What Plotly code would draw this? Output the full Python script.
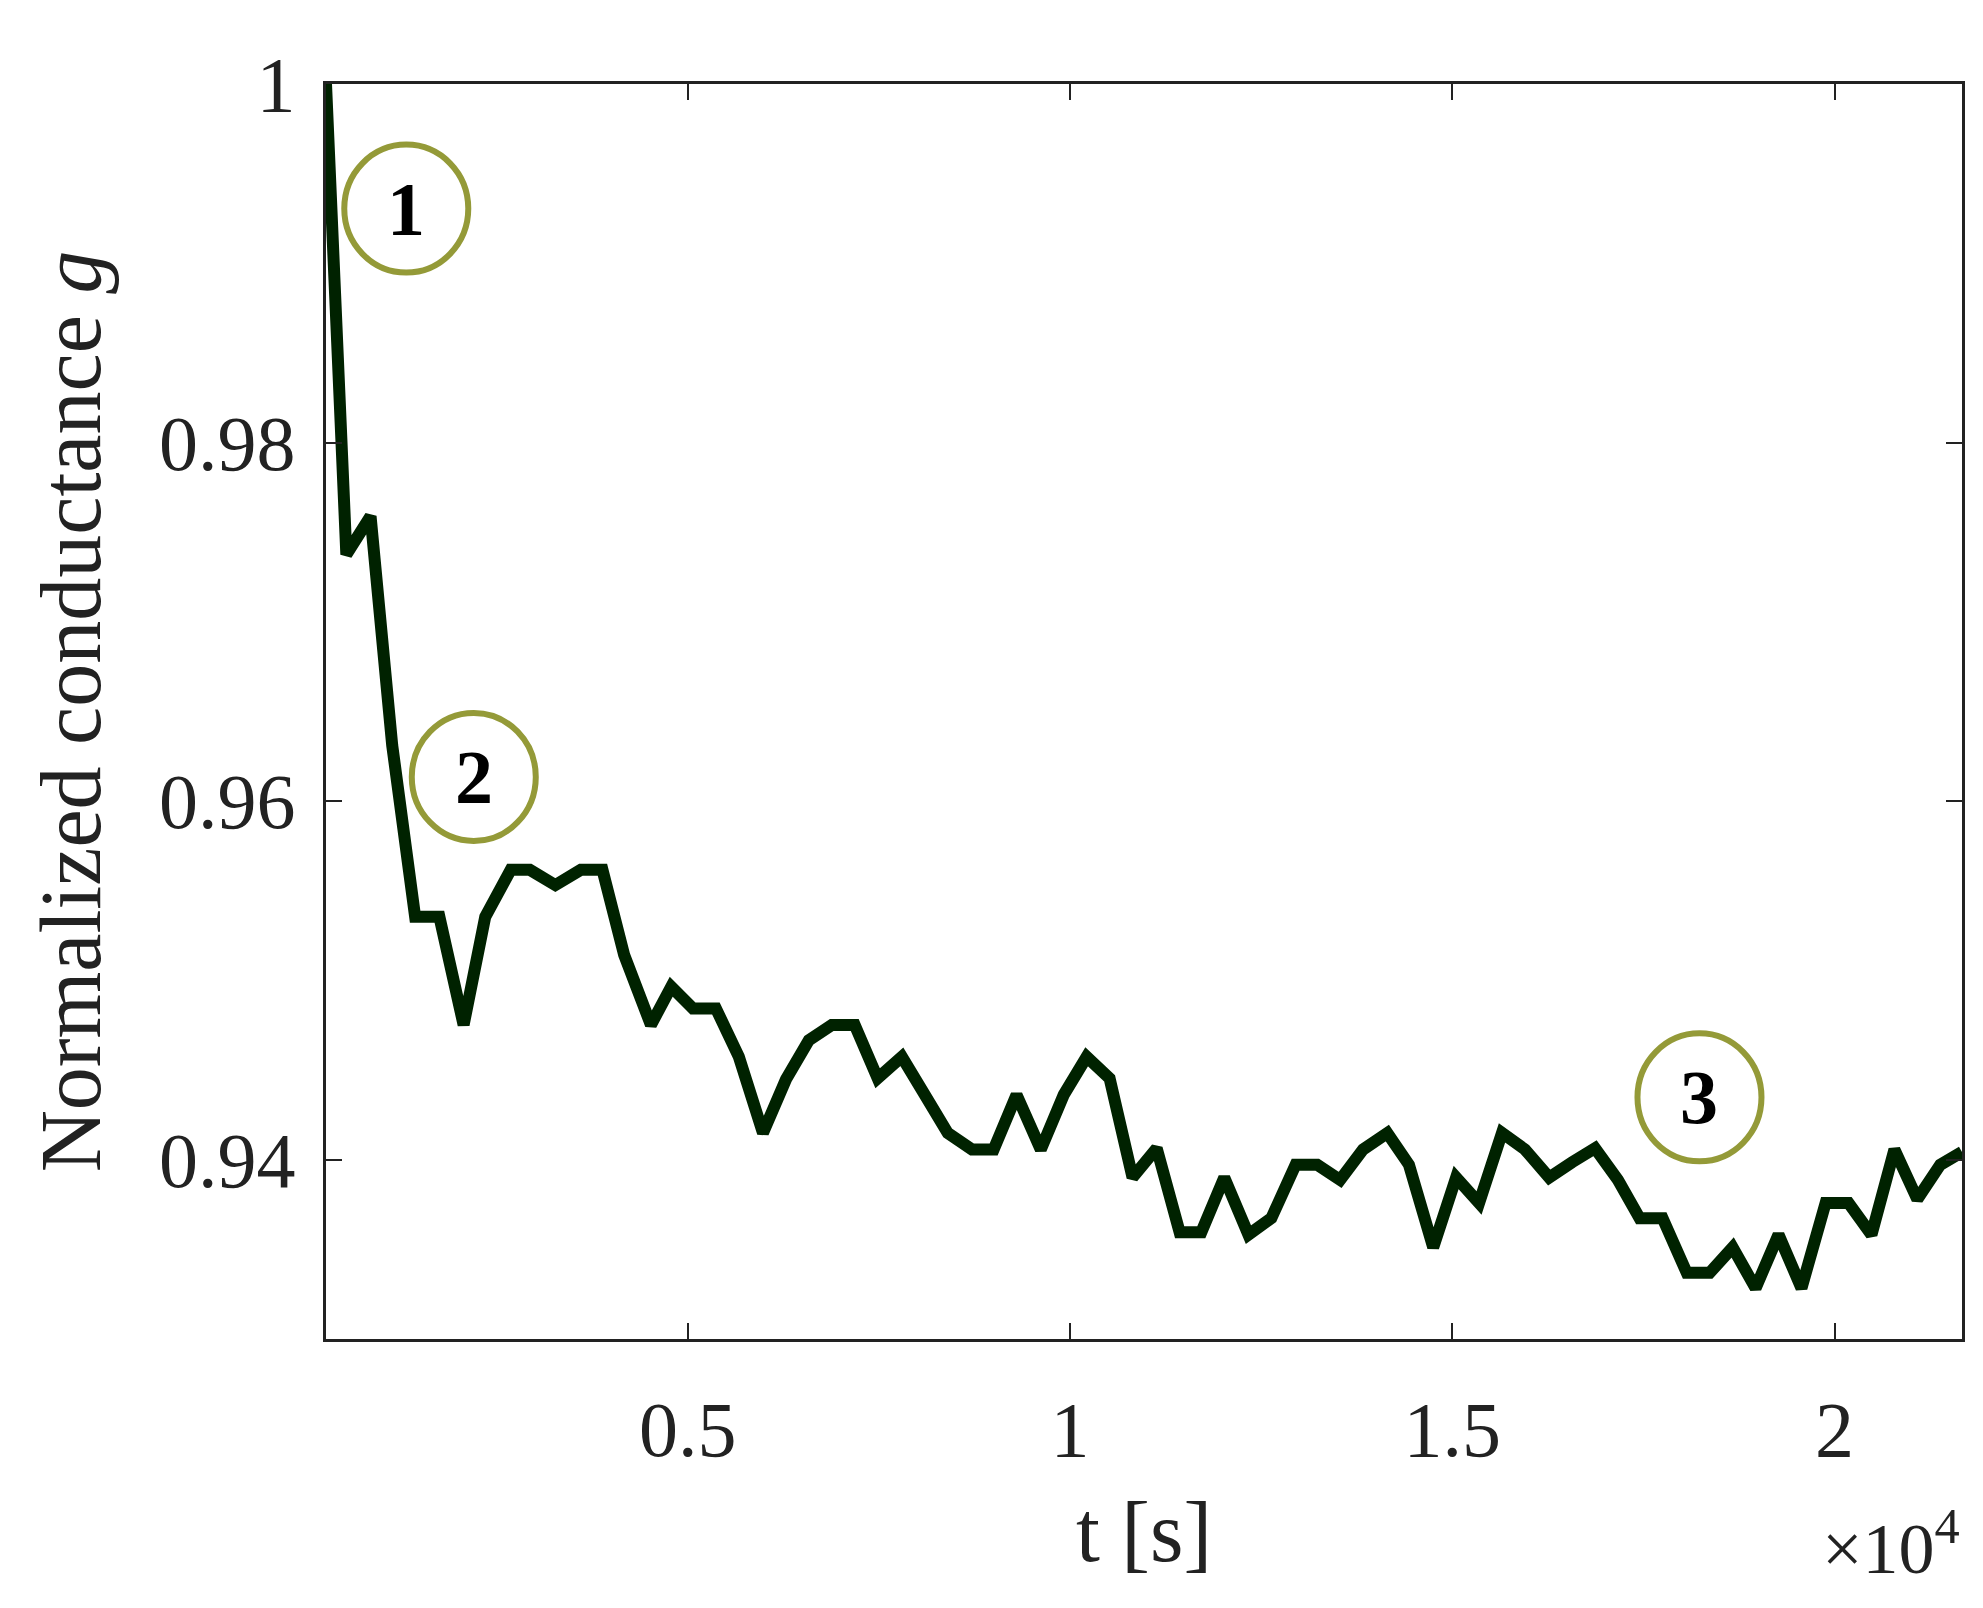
import plotly.graph_objects as go

t = [267, 533, 850, 1133, 1433, 1750, 2067, 2350, 2683, 2933, 3267, 3600, 3883, 4167, 4517, 4783, 5067, 5367, 5667, 5983,
     6283, 6583, 6883, 7183, 7483, 7800, 8100, 8400, 8717, 9000, 9300, 9617, 9917, 10217, 10517, 10817, 11133, 11433, 11717,
     12017, 12333, 12633, 12950, 13233, 13533, 13833, 14150, 14433, 14750, 15050, 15350, 15650, 15950, 16267, 16567, 16867,
     17167, 17450, 17750, 18067, 18367, 18667, 18967, 19267, 19567, 19883, 20183, 20483, 20783, 21083, 21383, 21667]
g = [1.0, .97376, .97589, .96312, .95355, .95355, .94752, .95355, .95617, .95617, .95532, .95617, .95617, .95142, .94752,
     .94965, .94844, .94844, .94574, .94149, .94447, .94667, .94752, .94752, .94454, .94574, .94362, .94149, .94057, .94057,
     .94362, .94057, .94362, .94574, .94454, .93901, .94064, .93596, .93596, .93901, .93582, .93674, .93972, .93972, .93887,
     .94057, .94149, .93972, .93511, .93901, .93759, .94149, .94057, .93901, .93986, .94064, .93887, .93674, .93674, .93369,
     .93369, .93511, .93284, .93582, .93284, .93759, .93759, .93582, .94057, .93780, .93972, .94043]

marker_t = [1317, 2200, 18233]
marker_g = [0.99305, 0.96135, 0.94348]
marker_labels = ["1", "2", "3"]

xtick_vals = [5000, 10000, 15000, 20000]
xtick_text = ["0.5", "1", "1.5", "2"]
ytick_vals = [0.94, 0.96, 0.98, 1.0]
ytick_text = ["0.94", "0.96", "0.98", "1"]

FONT = "Liberation Serif"
fig = go.Figure()
fig.add_trace(go.Scatter(x=t, y=g, mode="lines", line=dict(color="#002200", width=12), showlegend=False))

shapes = []
annotations = []
for mx, my, lab in zip(marker_t, marker_g, marker_labels):
    shapes.append(dict(type="circle", xref="x", yref="y", xsizemode="pixel", ysizemode="pixel",
                       xanchor=mx, yanchor=my, x0=-62, x1=62, y0=-64, y1=64,
                       line=dict(color="#949a38", width=6)))
    annotations.append(dict(x=mx, y=my, xref="x", yref="y", text="<b>%s</b>" % lab, showarrow=False,
                            font=dict(family=FONT, size=76, color="black")))
annotations.append(dict(x=1.0, y=-0.125, xref="paper", yref="paper", xanchor="right", yanchor="top",
                        text="×10<sup>4</sup>", showarrow=False, font=dict(family=FONT, size=72, color="#222")))

fig.update_layout(
    width=1983, height=1608, plot_bgcolor="white", paper_bgcolor="white",
    margin=dict(l=318, r=29, t=76, b=277),
    shapes=shapes, annotations=annotations,
    font=dict(family=FONT, size=78, color="#222"),
)
axis_common = dict(showline=True, linecolor="#222", linewidth=3, mirror="allticks", ticks="inside",
                   ticklen=16, tickwidth=2, tickcolor="#222", showgrid=False, zeroline=False)
fig.update_xaxes(range=[267, 21667], tickvals=xtick_vals, ticktext=xtick_text,
                 title=dict(text="t [s]", font=dict(size=86), standoff=30), ticklabelstandoff=20, **axis_common)
fig.update_yaxes(range=[0.93, 1.0], tickvals=ytick_vals, ticktext=ytick_text,
                 title=dict(text="Normalized conductance <i>g</i>", font=dict(size=86), standoff=30),
                 ticklabelstandoff=12, **axis_common)
fig.write_html("out.html")
